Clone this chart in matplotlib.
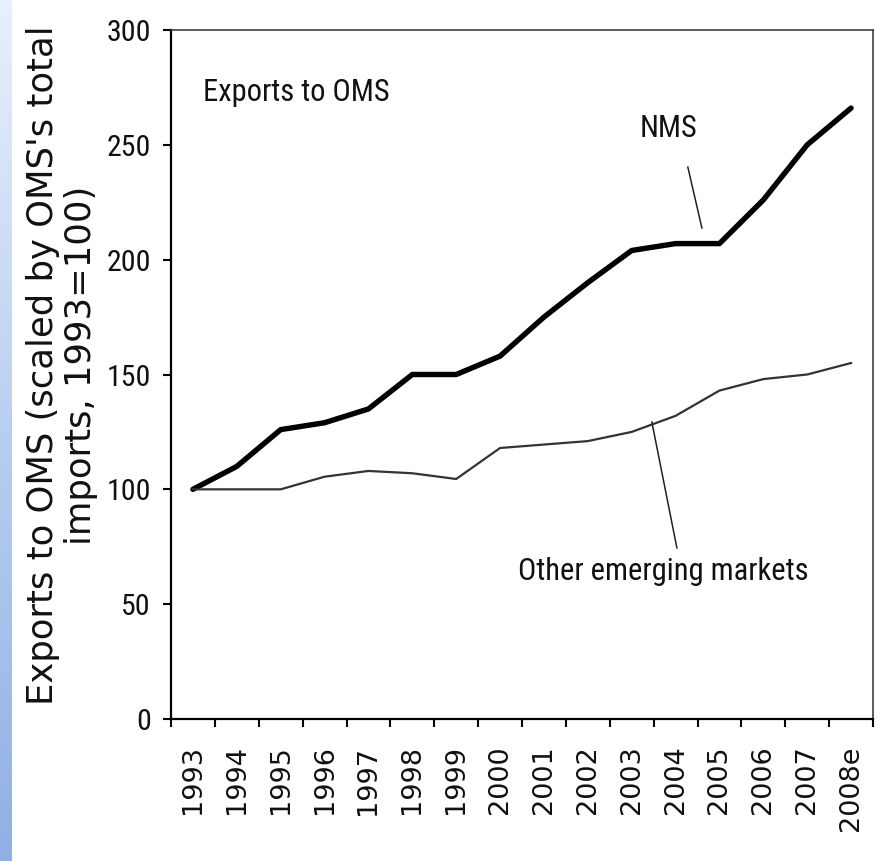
import numpy as np
import matplotlib
matplotlib.use("Agg")
from matplotlib import pyplot as plt
from matplotlib import font_manager

years = ["1993", "1994", "1995", "1996", "1997", "1998", "1999", "2000",
         "2001", "2002", "2003", "2004", "2005", "2006", "2007", "2008e"]
nms = [100, 110, 126, 129, 135, 150, 150, 158, 175, 190, 204, 207, 207, 226, 250, 266]
other = [100, 100, 100, 105.5, 108, 107, 104.5, 118, 119.5, 121, 125, 132, 143, 148, 150, 155]


# look for a narrow sans face, the chart text is Arial Narrow
def findNarrow():
    wanted = ["liberationsansnarrow-regular", "arimo", "notosans-condensed.",
              "robotocondensed-regular", "dejavusanscondensed."]
    files = [f.fname for f in font_manager.fontManager.ttflist]
    for w in wanted:
        for f in files:
            if w in f.lower().replace("_", "").replace(" ", ""):
                return font_manager.FontProperties(fname=f)
    return font_manager.FontProperties(family="Liberation Sans")


narrow = findNarrow()
ink = "#111111"

W, H = 877, 861
fig = plt.figure(figsize=(W / 100, H / 100), dpi=100)
fig.patch.set_facecolor("white")

# blue strip on the left edge (slide background)
strip = fig.add_axes([0, 0, 12 / W, 1])
grad = np.linspace(0, 1, 256).reshape(-1, 1)
cmap = matplotlib.colors.LinearSegmentedColormap.from_list("bg", ["#e8f0fc", "#b9cff0", "#8fb0e4"])
strip.imshow(grad, aspect="auto", cmap=cmap, extent=[0, 1, 0, 1], origin="upper")
strip.axis("off")

left, right, top, bottom = 171, 873, 30, 719
ax = fig.add_axes([left / W, 1 - bottom / H, (right - left) / W, (bottom - top) / H])

x = np.arange(len(years))
ax.plot(x, nms, color="black", lw=3.9, solid_joinstyle="round", solid_capstyle="round")
ax.plot(x, other, color="#333333", lw=1.6, solid_joinstyle="round")

ax.set_xlim(-0.5, len(years) - 0.5)
ax.set_ylim(0, 300)

# tick marks between the years, labels in the middle
ax.set_xticks(np.arange(-0.5, len(years), 1.0))
ax.set_xticklabels([])
ax.set_xticks(x, minor=True)
ax.set_xticklabels(years, minor=True, rotation=90, family="DejaVu Sans",
                   fontsize=19.5, color=ink)
ax.tick_params(axis="x", which="major", direction="out", length=6, width=1.5)
ax.tick_params(axis="x", which="minor", length=0, pad=19)

ax.set_yticks([0, 50, 100, 150, 200, 250, 300])
ax.tick_params(axis="y", direction="out", length=6, width=1.5, pad=8.5)
for t in ax.get_yticklabels():
    t.set_fontproperties(narrow)
    t.set_fontsize(21.5)
    t.set_color(ink)

for s in ["left", "bottom"]:
    ax.spines[s].set_linewidth(1.6)
    ax.spines[s].set_color("black")
for s in ["top", "right"]:
    ax.spines[s].set_linewidth(1.1)
    ax.spines[s].set_color("#333333")

t1 = ax.text(0.23, 273, "Exports to OMS", color=ink, ha="left", va="center")
t2 = ax.text(10.83, 251, "NMS", color=ink, ha="center", va="bottom")
t3 = ax.text(10.73, 64.4, "Other emerging markets", color=ink, ha="center", va="center")
for t in [t1, t2, t3]:
    t.set_fontproperties(narrow)
    t.set_fontsize(22)
ax.plot([11.28, 11.60], [240.3, 213.8], color="#222222", lw=1.1)
ax.plot([10.46, 11.03], [129.3, 74.5], color="#222222", lw=1.1)

fig.text(62 / W, 1 - 365 / H, "Exports to OMS (scaled by OMS's total\nimports, 1993=100)",
         rotation=90, ha="center", va="center", multialignment="center",
         family="DejaVu Sans", fontsize=25.5, linespacing=1.12, color=ink)

fig.savefig("out.png", dpi=100, facecolor="white")
